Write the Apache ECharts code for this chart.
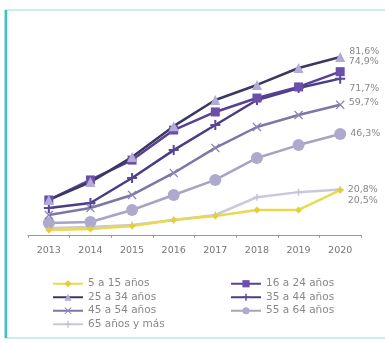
<!DOCTYPE html>
<html>
<head>
<meta charset="utf-8">
<script src="https://cdn.jsdelivr.net/npm/echarts@6/dist/echarts.min.js"></script>
<style>
  html, body { margin: 0; padding: 0; background: #fff; }
  #main { width: 385px; height: 343px; }
</style>
</head>
<body>
<div id="main"></div>
<script>
// años
const years = ["2013", "2014", "2015", "2016", "2017", "2018", "2019", "2020"];

// % por grupo de edad
const edad5a15 = [2.2, 2.7, 4.0, 6.8, 8.6, 11.4, 11.4, 20.5];
const edad16a24 = [16.0, 25.2, 34.3, 48.1, 56.4, 62.8, 67.9, 74.9];
const edad25a34 = [16.0, 24.2, 35.7, 49.9, 61.9, 68.8, 76.6, 81.6];
const edad35a44 = [12.3, 14.6, 26.1, 38.9, 50.4, 61.9, 67.4, 71.7];
const edad45a54 = [9.1, 12.3, 18.3, 28.4, 39.9, 49.5, 55.0, 59.7];
const edad55a64 = [5.4, 5.9, 11.4, 18.3, 25.2, 35.3, 41.2, 46.3];
const edad65mas = [3.1, 3.6, 4.5, 6.8, 9.1, 17.3, 19.6, 20.8];

const names = ["5 a 15 años", "16 a 24 años", "25 a 34 años", "35 a 44 años",
  "45 a 54 años", "55 a 64 años", "65 años y más"];

const FONT = "DejaVu Sans";
const plus = "path://M4,0 L6,0 L6,4 L10,4 L10,6 L6,6 L6,10 L4,10 L4,6 L0,6 L0,4 L4,4 Z";
const cross = "path://M1,0 L5,4 L9,0 L10,1 L6,5 L10,9 L9,10 L5,6 L1,10 L0,9 L4,5 L0,1 Z";

// etiqueta solo en el último punto
let withEnd = (arr, dy) => arr.map((v, i) => i === arr.length - 1 ? {
  value: v,
  label: {
    show: true, position: "right", distance: 4, offset: [0, dy],
    formatter: (p) => String(p.value).replace(".", ",") + "%",
    color: "#888", fontSize: 9.5, fontFamily: FONT,
  },
} : v);

let mk = (name, data, dy, lineColor, markColor, symbol, size, width) => ({
  name: name,
  type: "line",
  data: withEnd(data, dy),
  symbol: symbol,
  symbolSize: size,
  showAllSymbol: true,
  lineStyle: { color: lineColor, width: width },
  itemStyle: { color: markColor },
  emphasis: { disabled: true },
});

let legendBase = {
  orient: "vertical", top: 277, height: 80, padding: 0,
  itemWidth: 30, itemHeight: 9, itemGap: 0,
  textStyle: { color: "#888", fontSize: 10.5, fontFamily: FONT, lineHeight: 13.5 },
};

let myChart = echarts.init(document.getElementById("main"));
let option = {
  animation: false,
  backgroundColor: "#fff",
  graphic: [
    { type: "rect", shape: { x: 5, y: 10, width: 395, height: 328 },
      style: { fill: "none", stroke: "#9adcdc", lineWidth: 1 } },
    { type: "line", shape: { x1: 6, y1: 10, x2: 6, y2: 338 },
      style: { stroke: "#3fc1c1", lineWidth: 2.5 } },
  ],
  grid: { left: 28, right: 24, top: 17, height: 220 },
  xAxis: {
    type: "category",
    data: years,
    boundaryGap: true,
    axisLine: { lineStyle: { color: "#999", width: 1 } },
    axisTick: { show: true, length: 3, lineStyle: { color: "#999" } },
    axisLabel: { color: "#777", fontSize: 9.5, fontFamily: FONT, margin: 9 },
  },
  yAxis: { type: "value", min: -1, max: 100, show: false, splitLine: { show: false } },
  legend: [
    Object.assign({}, legendBase, { left: 52, data: [names[0], names[2], names[4], names[6]] }),
    Object.assign({}, legendBase, { left: 230, data: [names[1], names[3], names[5]] }),
  ],
  series: [
    mk(names[6], edad65mas, 0, "#cac8d9", "#c4c2d6", plus, 7, 2.5),
    mk(names[5], edad55a64, 0, "#a6a3c4", "#aeaacd", "circle", 12, 2.5),
    mk(names[4], edad45a54, -2, "#7c77a6", "#8a84b6", cross, 9, 2.5),
    mk(names[0], edad5a15, 10, "#ead94f", "#e3cf3c", "diamond", 7, 2.5),
    mk(names[3], edad35a44, 10, "#4c3c86", "#5a4896", plus, 10, 2.5),
    mk(names[1], edad16a24, -10, "#5a3f96", "#6a50ab", "rect", 9, 2.5),
    mk(names[2], edad25a34, -6, "#3a3860", "#b2aad8", "triangle", 10, 2.5),
  ],
};
myChart.setOption(option);
</script>
</body>
</html>
